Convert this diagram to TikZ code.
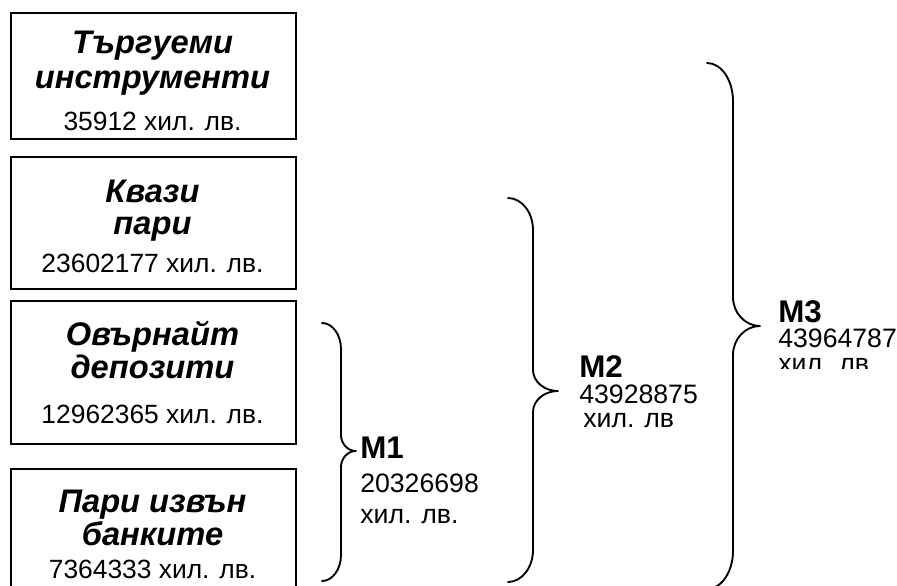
\documentclass[tikz,border=0pt]{standalone}
\usepackage{fontspec}
\setmainfont{Liberation Sans}
\newcommand\mybrace[8]{% x0 x1 x2 ytop ytip ybot r rt
  \draw[brace] (#1,#4) .. controls ({#1+0.55*(#2-#1)},#4) and (#2,{#4+0.45*#7}) .. (#2,#4+#7)
    -- (#2,#5-#8)
    .. controls (#2,{#5-0.45*#8}) and ({#3-0.55*(#3-#2)},#5) .. (#3,#5)
    .. controls ({#3-0.55*(#3-#2)},#5) and (#2,{#5+0.45*#8}) .. (#2,#5+#8)
    -- (#2,#6-#7)
    .. controls (#2,{#6-0.45*#7}) and ({#1+0.55*(#2-#1)},#6) .. (#1,#6);}
\begin{document}
\begin{tikzpicture}[x=0.75pt,y=-0.75pt,
  box/.style={draw, line width=1.6pt, rectangle, anchor=north west, inner sep=0pt, minimum width=213.75pt},
  title/.style={font=\fontsize{24.5}{28}\selectfont\bfseries\itshape, anchor=base, inner sep=0pt},
  num/.style={font=\fontsize{19.8}{23}\selectfont, anchor=base, inner sep=0pt},
  mlab/.style={font=\fontsize{23.5}{27}\selectfont\bfseries, anchor=base west, inner sep=0pt},
  mnum/.style={font=\fontsize{20}{23}\selectfont, anchor=base west, inner sep=0pt},
  brace/.style={line width=1.4pt, line cap=round, line join=round},
]
\clip (0,0) rectangle (897,586);
\fill[white] (0,0) rectangle (897,586);

% boxes
\node[box, minimum height=94.5pt] (b1) at (10,12) {};
\node[box, minimum height=99pt] (b2) at (10,156) {};
\node[box, minimum height=107.25pt] (b3) at (10,300) {};
\node[box, minimum height=105pt] (b4) at (10,468) {};

% box texts
\node[title] (t1a) at (152.5,53) {Търгуеми};
\node[title] (t1b) at (152.5,88) {инструменти};
\node[num] (t1c) at (152.5,130) {35912 хил. лв.};

\node[title] (t2a) at (152.5,202) {Квази};
\node[title] (t2b) at (152.5,234) {пари};
\node[num] (t2c) at (152.5,272) {23602177 хил. лв.};

\node[title] (t3a) at (152.5,345) {Овърнайт};
\node[title] (t3b) at (152.5,378) {депозити};
\node[num] (t3c) at (152.5,423) {12962365 хил. лв.};

\node[title] (t4a) at (152.5,512) {Пари извън};
\node[title] (t4b) at (152.5,545) {банките};
\node[num] (t4c) at (152.5,578) {7364333 хил. лв.};

% braces
\mybrace{322}{341}{356}{323}{451}{581}{26}{16}
\mybrace{508}{533}{558}{198}{391}{582}{32}{21}
\mybrace{707}{733}{760}{63}{326}{589}{38}{29}

% labels
\node[mlab] (m1) at (360,458) {M1};
\node[mnum] (m1n) at (360,492) {20326698};
\node[mnum] (m1u) at (360,523) {хил. лв.};

\node[mlab] (m2) at (579,377) {M2};
\node[mnum] (m2n) at (579,403) {43928875};
\node[mnum] (m2u) at (583,427) {хил. лв};

\node[mlab] (m3) at (778,322) {M3};
\node[mnum] (m3n) at (778,347) {43964787};
\begin{scope}
  \clip (770,300) rectangle (897,368);
  \node[mnum] (m3u) at (778,372) {хил. лв};
\end{scope}
\end{tikzpicture}
\end{document}
